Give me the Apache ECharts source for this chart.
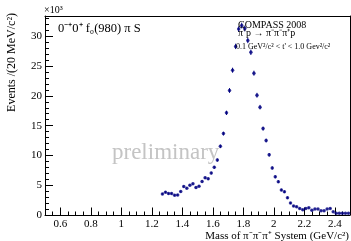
<!DOCTYPE html>
<html>
<head>
<meta charset="utf-8">
<script src="https://cdn.jsdelivr.net/npm/echarts@6/dist/echarts.min.js"></script>
<style>html,body{margin:0;padding:0;background:#fff}#c{width:351px;height:241px}</style>
</head>
<body>
<div id="c"></div>
<script>
// Mass of pi- pi- pi+ system (GeV/c^2), bin centres (20 MeV bins)
var mass = [1.27,1.29,1.31,1.33,1.35,1.37,1.39,1.41,1.43,1.45,1.47,1.49,1.51,1.53,1.55,1.57,1.59,1.61,1.63,1.65,
            1.67,1.69,1.71,1.73,1.75,1.77,1.79,1.81,1.83,1.85,1.87,1.89,1.91,1.93,1.95,1.97,1.99,2.01,2.03,2.05,
            2.07,2.09,2.11,2.13,2.15,2.17,2.19,2.21,2.23,2.25,2.27,2.29,2.31,2.33,2.35,2.37,2.39,2.41,2.43,2.45,
            2.47,2.49];
// Events / (20 MeV/c^2), in units of 10^3
var events = [3.54,3.83,3.59,3.59,3.32,3.37,3.93,4.77,4.50,5.01,5.23,4.60,4.84,5.62,6.24,6.07,7.03,8.0,9.22,11.52,
              13.66,17.15,20.9,24.3,28.3,31.2,31.8,31.3,29.3,27.3,23.8,20.1,18.1,14.5,12.5,10.1,7.9,6.4,5.6,4.2,
              3.9,2.9,2.0,1.5,1.4,1.1,0.9,1.1,1.2,0.8,1.0,1.0,0.7,0.7,1.0,1.1,0.55,0.3,0.3,0.3,
              0.3,0.3];
// statistical errors (10^3)
var errors = [0.15,0.15,0.15,0.15,0.15,0.15,0.15,0.17,0.17,0.18,0.18,0.17,0.18,0.20,0.20,0.20,0.22,0.24,0.26,0.30,
              0.32,0.36,0.40,0.42,0.45,0.48,0.48,0.48,0.46,0.45,0.42,0.40,0.38,0.34,0.32,0.30,0.26,0.24,0.22,0.20,
              0.20,0.18,0.15,0.13,0.13,0.12,0.12,0.12,0.12,0.10,0.10,0.10,0.10,0.10,0.10,0.10,0.08,0.06,0.06,0.06,
              0.06,0.06];
var xTickLabels = ['0.6','0.8','1','1.2','1.4','1.6','1.8','2','2.2','2.4'];
var yTickLabels = ['0','5','10','15','20','25','30'];

var SERIF = 'Liberation Serif';
var chart = echarts.init(document.getElementById('c'), null, {renderer:'canvas'});

var pts = mass.map(function(m,i){return [m, events[i]];});
var errs = mass.map(function(m,i){return [m, events[i], errors[i]];});

var option = {
  animation:false,
  backgroundColor:'#fff',
  grid:[
    {left:45, right:1, top:16, bottom:26},
    {left:60.25, right:16.25, top:16, bottom:26},
    {left:45, right:1, top:36.3, bottom:26}
  ],
  xAxis:[
    {gridIndex:0, type:'value', min:0.5, max:2.5, interval:0.05, position:'bottom',
     axisLine:{show:true, onZero:false, lineStyle:{color:'#000', width:1}},
     axisTick:{show:true, inside:true, length:3.5, lineStyle:{color:'#000'}},
     axisLabel:{show:false}, splitLine:{show:false}},
    {gridIndex:0, type:'value', min:0.5, max:2.5, position:'top',
     axisLine:{show:true, onZero:false, lineStyle:{color:'#000', width:1}},
     axisTick:{show:false}, axisLabel:{show:false}, splitLine:{show:false}},
    {gridIndex:1, type:'value', min:0.6, max:2.4, interval:0.2, position:'bottom',
     axisLine:{show:false, onZero:false},
     axisTick:{show:true, inside:true, length:7.5, lineStyle:{color:'#000'}},
     axisLabel:{show:true, margin:4, color:'#000', fontFamily:SERIF, fontSize:11,
       formatter:function(v){ var i=Math.round((v-0.6)/0.2); return xTickLabels[i]||''; }},
     splitLine:{show:false}},
    {gridIndex:2, type:'value', min:0, max:1, show:false}
  ],
  yAxis:[
    {gridIndex:0, type:'value', min:0, max:33.4, interval:1, position:'left',
     axisLine:{show:true, onZero:false, lineStyle:{color:'#000', width:1}},
     axisTick:{show:true, inside:true, length:4, lineStyle:{color:'#000'}},
     axisLabel:{show:false}, splitLine:{show:false}},
    {gridIndex:0, type:'value', min:0, max:33.4, position:'right',
     axisLine:{show:true, onZero:false, lineStyle:{color:'#000', width:1}},
     axisTick:{show:false}, axisLabel:{show:false}, splitLine:{show:false}},
    {gridIndex:1, type:'value', min:0, max:1, show:false},
    {gridIndex:2, type:'value', min:0, max:30, interval:5, position:'left',
     axisLine:{show:false, onZero:false},
     axisTick:{show:true, inside:true, length:8, lineStyle:{color:'#000'}},
     axisLabel:{show:true, margin:3, color:'#000', fontFamily:SERIF, fontSize:11,
       formatter:function(v){ var i=Math.round(v/5); return yTickLabels[i]||''; }},
     splitLine:{show:false}}
  ],
  series:[
    {type:'custom', xAxisIndex:0, yAxisIndex:0, data:errs, z:3,
     renderItem:function(params, api){
       var x=api.value(0), y=api.value(1), e=api.value(2);
       var p1=api.coord([x,y-e]), p2=api.coord([x,y+e]);
       return {type:'line', shape:{x1:p1[0],y1:p1[1],x2:p2[0],y2:p2[1]},
               style:{stroke:'#000080', lineWidth:1}};
     }},
    {type:'scatter', xAxisIndex:0, yAxisIndex:0, data:pts, symbol:'circle', symbolSize:3.5, z:4,
     itemStyle:{color:'#000080'}}
  ],
  graphic:[
    {type:'text', x:112, y:164, z:10, silent:true,
     style:{text:'preliminary', font:'23px "Liberation Serif"', fill:'#c4c4c4', textAlign:'left', textVerticalAlign:'bottom', align:'left', verticalAlign:'bottom'}},
    {type:'text', x:44, y:10, z:10,
     style:{text:'×10³', font:'10px "Liberation Serif"', fill:'#000', textAlign:'left', textVerticalAlign:'middle', align:'left', verticalAlign:'middle'}},
    {type:'text', x:58, y:29, z:10,
     style:{text:'0⁻⁺0⁺ f₀(980) π S', font:'12.5px "Liberation Serif"', fill:'#000', textAlign:'left', textVerticalAlign:'middle', align:'left', verticalAlign:'middle'}},
    {type:'text', x:238, y:25, z:10,
     style:{text:'COMPASS 2008', font:'10px "Liberation Serif"', fill:'#000', textAlign:'left', textVerticalAlign:'middle', align:'left', verticalAlign:'middle'}},
    {type:'text', x:238, y:33, z:10,
     style:{text:'π⁻p → π⁻π⁻π⁺p', font:'10px "Liberation Serif"', fill:'#000', textAlign:'left', textVerticalAlign:'middle', align:'left', verticalAlign:'middle'}},
    {type:'text', x:236, y:47, z:10,
     style:{text:"0.1 GeV²/c² < t' < 1.0 Gev²/c²", font:'8px "Liberation Serif"', fill:'#000', textAlign:'left', textVerticalAlign:'middle', align:'left', verticalAlign:'middle'}},
    {type:'text', x:349, y:236, z:10,
     style:{text:'Mass of π⁻π⁻π⁺ System (GeV/c²)', font:'11px "Liberation Serif"', fill:'#000', textAlign:'right', textVerticalAlign:'middle', align:'right', verticalAlign:'middle'}},
    {type:'text', x:12, y:13, rotation:Math.PI/2, z:10,
     style:{text:'Events /(20 MeV/c²)', font:'12px "Liberation Serif"', fill:'#000', textAlign:'right', textVerticalAlign:'middle', align:'right', verticalAlign:'middle'}}
  ]
};
chart.setOption(option);
</script>
</body>
</html>
